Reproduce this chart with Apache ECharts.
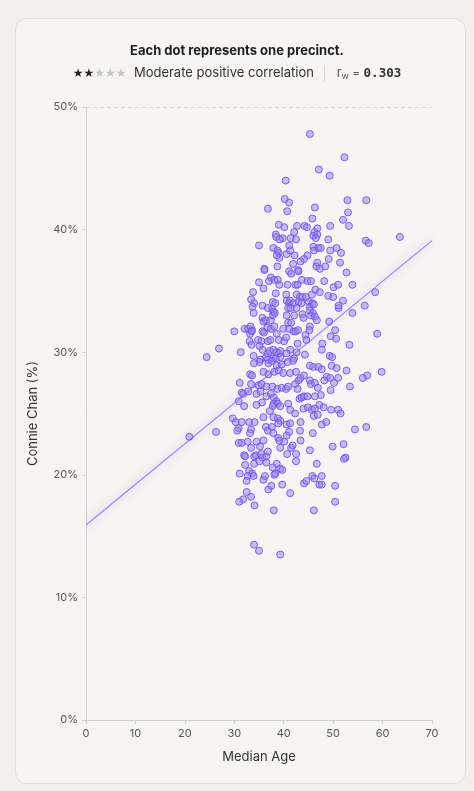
<!DOCTYPE html>
<html>
<head>
<meta charset="utf-8">
<script src="https://cdn.jsdelivr.net/npm/echarts@6/dist/echarts.min.js"></script>
<style>
  html, body { margin: 0; padding: 0; background: #f1f0ee; }
  #card {
    position: absolute; left: 15px; top: 18px; width: 449px; height: 764px;
    background: #f6f5f3; border: 1px solid #e0dedb; border-radius: 12px;
  }
  #chart { position: absolute; left: 0; top: 0; width: 474px; height: 791px; }
</style>
</head>
<body>
<div id="card"></div>
<div id="chart"></div>
<script>
// median age, Connie Chan share (%) per precinct
var precincts = [
  [45.3,47.8],[52.3,45.9],[47.1,44.9],[49.3,44.4],[40.4,44.0],[40.2,42.5],[41.1,42.2],[52.9,42.4],
  [56.7,42.4],[36.8,41.7],[46.3,41.8],[40.7,41.5],[53.0,41.4],[45.8,40.9],[52.0,40.8],[39.0,40.4],
  [40.1,40.2],[42.7,40.3],[44.2,40.3],[44.7,40.2],[46.8,40.1],[49.4,40.3],[53.2,40.3],[46.2,39.8],
  [42.1,39.8],[38.4,39.6],[38.5,39.4],[39.8,39.3],[39.2,39.2],[41.4,39.3],[42.5,39.2],[46.0,39.5],
  [46.8,39.6],[46.5,39.3],[49.0,39.2],[56.6,39.1],[57.2,38.9],[63.5,39.4],[35.0,38.7],[37.9,38.5],
  [38.7,38.3],[39.0,38.1],[39.1,37.7],[38.6,37.9],[40.6,38.0],[41.3,38.3],[41.1,38.7],[42.2,37.9],
  [44.8,37.9],[44.1,37.6],[43.4,37.4],[46.0,38.6],[46.1,38.3],[47.0,38.5],[47.5,38.5],[49.4,38.3],
  [50.7,38.5],[51.6,38.1],[49.1,37.6],[51.4,37.3],[36.1,36.8],[38.7,37.0],[41.9,37.2],[42.9,36.7],
  [46.8,37.3],[46.6,37.0],[47.3,36.8],[48.4,37.0],
  [36.1,36.7],[41.1,36.6],[41.5,36.4],[43.0,36.6],[52.7,36.5],[35.0,35.7],[37.4,36.1],[37.0,35.8],
  [38.1,35.9],[38.8,35.9],[39.1,35.5],[40.8,35.5],[42.4,35.5],[42.8,35.5],[43.7,35.9],[44.8,35.8],
  [45.5,35.8],[48.2,35.8],[50.1,35.3],[51.0,35.5],[53.9,35.5],[33.8,34.9],[35.9,35.2],[38.4,34.8],
  [40.5,34.7],[42.6,34.7],[43.3,34.5],[43.8,34.5],[44.5,34.5],[45.7,34.7],[46.4,35.1],[47.3,34.9],
  [49.0,34.6],[50.0,34.5],[58.5,34.9],[33.4,34.3],[34.0,34.0],[33.7,33.7],[35.7,33.8],[36.8,33.6],
  [37.8,34.1],[38.3,34.0],[37.7,33.5],[37.9,33.3],[40.6,34.2],[41.1,34.0],[41.3,34.2],[42.0,34.0],
  [43.0,34.1],[43.6,34.0],[45.1,34.1],[45.8,34.0],[45.3,33.7],[46.1,33.9],[40.9,33.6],[41.4,33.6],
  [42.6,33.6],[45.3,33.4],[45.9,33.2],[51.1,33.6],[52.0,34.2],[51.1,33.8],[56.4,33.8],[53.9,33.2],
  [33.9,33.2],[35.7,32.8],[35.9,32.5],[36.4,32.6],[37.4,32.6],[37.8,33.0],[38.2,33.2],[40.6,33.0],
  [42.1,33.0],[43.8,33.1],[44.0,32.8],[45.5,33.0],[46.3,32.9],[46.7,32.6],[49.2,32.5],[30.0,31.7],
  [32.1,31.9],[32.8,31.9],[33.2,31.5],[33.6,31.8],[33.3,32.1],[33.5,31.7],[35.7,31.7],[36.0,31.6],
  [36.7,32.0],[37.4,31.9],[38.1,32.1],[38.6,31.5],[39.9,31.9],[40.9,32.4],[41.5,32.4],[41.1,31.9],
  [42.0,31.7],[42.4,31.7],[42.9,31.8],[45.3,32.1],[45.2,31.8],[44.4,31.4],[44.6,31.0],[50.4,31.8],
  [49.5,31.3],[50.6,31.1],[58.9,31.5],[53.3,30.6],[26.9,30.3],[31.3,30.0],[33.1,30.9],[33.5,30.6],
  [34.8,31.0],[35.5,30.9],[35.1,30.5],[35.7,30.2],[36.8,30.9],[37.3,31.0],[39.0,31.0],[40.1,30.9],
  [40.5,31.2],[42.8,30.7],[47.8,30.7],[47.7,30.2],[49.3,29.7],[49.8,29.6],[24.4,29.6],[33.9,29.7],
  [35.3,29.4],[36.4,29.6],[36.8,29.9],[37.2,30.1],[37.9,30.2],[38.5,30.0],[39.0,29.9],[39.3,30.1],
  [39.3,29.6],[37.9,29.5],[38.4,29.5],[36.8,29.4],[41.3,30.2],[40.6,29.9],[42.6,30.0],[42.1,29.5],
  [44.3,29.8],
  [34.0,29.1],[35.1,29.2],[36.9,29.1],[37.6,29.3],[38.6,28.9],[39.6,29.0],[40.8,29.2],[41.9,29.3],
  [45.3,28.9],[46.0,28.8],[47.0,28.8],[47.7,28.6],[49.7,28.9],[50.7,28.7],[52.7,28.5],[59.8,28.4],
  [56.9,28.1],[56.0,27.9],[53.4,27.2],[48.7,28.0],[49.4,27.9],[51.0,27.9],[50.2,27.5],[48.2,27.7],
  [49.5,26.9],[33.2,28.2],[33.6,28.1],[35.9,28.4],[36.9,28.2],[38.1,28.4],[39.0,28.5],[39.9,28.3],
  [41.3,28.3],[42.5,28.4],[43.0,27.7],[43.4,27.9],[44.1,28.1],[45.3,27.7],[45.5,27.4],[46.3,27.5],
  [46.9,27.1],[47.5,26.5],[31.1,27.5],[33.4,27.4],[34.9,27.3],[35.5,27.4],[36.5,27.2],[37.7,27.2],
  [38.7,27.0],[39.6,27.1],[40.5,27.0],[40.9,27.2],[42.3,27.4],[42.8,27.0],[43.2,26.2],[43.6,26.3],
  [44.1,26.4],[44.8,26.4],[46.3,26.4],[31.5,26.7],[31.8,26.6],[32.8,26.8],[34.5,26.6],[35.3,26.8],
  [36.5,26.4],[37.4,26.6],[38.0,26.3],[38.5,26.0],[38.0,25.8],[38.8,25.8],[39.3,25.6],[37.8,25.6],
  [35.6,25.9],[34.5,25.7],[30.9,26.0],[32.0,25.6],[37.2,25.2],[37.9,24.7],[38.8,24.6],[39.3,24.4],
  [40.9,25.8],[41.3,25.3],[42.3,25.0],[43.4,24.3],[44.0,25.4],[44.9,25.5],[45.7,25.3],[46.3,25.4],
  [47.2,25.7],[48.1,25.5],[49.6,25.3],[51.0,25.3],[51.5,25.0],[46.1,24.8],[46.9,24.9],[48.6,24.3],
  [47.7,24.1],[54.4,23.7],[56.7,23.9],[26.3,23.5],[29.7,24.6],[30.3,24.3],[31.5,24.3],[30.9,23.8],
  [30.6,23.6],[33.0,24.3],[33.4,23.7],[33.2,23.4],[34.1,24.3],[35.9,24.7],[36.4,23.9],[36.8,23.6],
  [37.6,23.9],[38.9,24.2],[40.6,24.1],[41.3,24.2],[41.1,23.5],[40.6,23.2],[40.1,22.7],[38.9,23.0],
  [39.3,22.2],[39.1,22.8],[37.9,23.4],[35.9,22.8],[35.2,22.3],[34.5,22.7],[32.7,22.7],[31.5,22.6],
  [30.9,22.6],[33.4,22.2],[32.0,21.6],[32.2,21.5],[34.0,21.5],[34.4,21.6],[35.4,21.7],[35.7,21.4],
  [36.5,21.5],[36.8,21.9],[40.7,21.7],[41.5,22.2],[41.8,22.4],[42.5,21.7],[43.4,22.8],[45.3,22.0],
  [45.9,23.4],[43.3,23.6],[49.9,22.3],[52.1,22.5],[52.5,21.4],[52.2,21.3],[20.9,23.1],
  [32.2,20.8],[34.0,20.9],[35.1,21.1],[36.5,21.0],[38.6,20.9],[37.8,20.6],[39.3,20.5],[39.7,20.4],
  [38.3,20.1],[38.1,20.0],[42.5,21.1],[46.7,20.9],[31.1,20.1],[33.0,20.3],[33.6,20.1],[32.7,19.9],
  [32.5,19.5],[33.9,19.9],[35.9,19.6],[36.2,19.9],[36.9,18.8],[37.5,19.1],[39.7,19.2],[41.3,18.5],
  [44.1,19.3],[44.6,19.5],[45.8,19.9],[46.2,19.7],[47.7,19.9],[47.2,19.2],[47.7,19.2],[50.4,19.1],
  [32.5,18.6],[33.4,18.2],[31.8,18.0],[31.0,17.8],[34.1,17.5],[38.0,17.1],[46.1,17.1],[50.4,17.8],
  [34.0,14.3],[35.0,13.8],[39.3,13.5]
];

// weighted fit line end points
var trendLine = [[0, 15.9], [70, 39.1]];

var xTicks = { min: 0, max: 70, interval: 10 };
var yTicks = { min: 0, max: 50, interval: 10 };

var chartDom = document.getElementById('chart');
var myChart = echarts.init(chartDom);

var purple = '#6f55e6';
var fontFamily = 'Inter, "Noto Sans", sans-serif';

var option = {
    backgroundColor: 'transparent',
    animation: false,
    textStyle: { fontFamily: fontFamily },
    title: {
        text: 'Each dot represents one precinct.',
        subtext: '{on|★★}{off|★★★}  {txt|Moderate positive correlation}  {sep|│}  {r|r}{w|w}{eq| = }{num|0.303}',
        left: 'center',
        top: 40,
        itemGap: 8,
        textStyle: { fontSize: 13, fontWeight: 'bold', color: '#1d1d1f', fontFamily: fontFamily },
        subtextStyle: {
            fontSize: 13,
            color: '#333',
            rich: {
                on: { color: '#222', fontSize: 12, fontFamily: 'DejaVu Sans' },
                off: { color: '#c6c6c6', fontSize: 12, fontFamily: 'DejaVu Sans' },
                txt: { color: '#333', fontSize: 13, fontFamily: fontFamily },
                sep: { color: '#d0d0d0', fontSize: 13 },
                r: { color: '#555', fontSize: 13, fontFamily: fontFamily },
                w: { color: '#555', fontSize: 9, fontFamily: fontFamily, verticalAlign: 'bottom', padding: [6, 0, 0, 0] },
                eq: { color: '#555', fontSize: 12 },
                num: { color: '#333', fontSize: 12.5, fontWeight: 'bold', fontFamily: '"DejaVu Sans Mono", monospace' }
            }
        }
    },
    grid: { left: 86, right: 42, top: 107, bottom: 71 },
    xAxis: {
        type: 'value',
        min: xTicks.min,
        max: xTicks.max,
        interval: xTicks.interval,
        name: 'Median Age',
        nameLocation: 'middle',
        nameGap: 31,
        nameTextStyle: { fontSize: 13, color: '#333', fontFamily: fontFamily },
        axisLine: { lineStyle: { color: '#d0d0d0' } },
        axisTick: { show: true, length: 4, lineStyle: { color: '#d0d0d0' } },
        axisLabel: { fontSize: 11, color: '#555', margin: 8 },
        splitLine: { show: false }
    },
    yAxis: {
        type: 'value',
        min: yTicks.min,
        max: yTicks.max,
        interval: yTicks.interval,
        name: 'Connie Chan (%)',
        nameLocation: 'middle',
        nameGap: 46,
        nameTextStyle: { fontSize: 13, color: '#333', fontFamily: fontFamily },
        axisLine: { show: true, lineStyle: { color: '#d0d0d0' } },
        axisTick: { show: true, length: 4, lineStyle: { color: '#d0d0d0' } },
        axisLabel: { fontSize: 11, color: '#555', formatter: '{value}%', margin: 8 },
        splitLine: {
            show: true,
            lineStyle: {
                type: [4, 3],
                color: ['rgba(0,0,0,0)', 'rgba(0,0,0,0)', 'rgba(0,0,0,0)',
                        'rgba(0,0,0,0)', 'rgba(0,0,0,0)', '#d4d4d4']
            }
        }
    },
    series: [
        {
            name: 'Trend',
            type: 'line',
            data: trendLine,
            symbol: 'none',
            silent: true,
            z: 1,
            lineStyle: {
                width: 1.2,
                color: '#9a84f4',
                shadowBlur: 8,
                shadowColor: 'rgba(123,92,240,0.55)'
            }
        },
        {
            name: 'Precincts',
            type: 'scatter',
            data: precincts,
            symbolSize: 7,
            z: 2,
            itemStyle: {
                color: 'rgba(150,128,242,0.5)',
                borderColor: purple,
                borderWidth: 0.9,
                opacity: 1
            }
        }
    ]
};

option && myChart.setOption(option);
</script>
</body>
</html>
